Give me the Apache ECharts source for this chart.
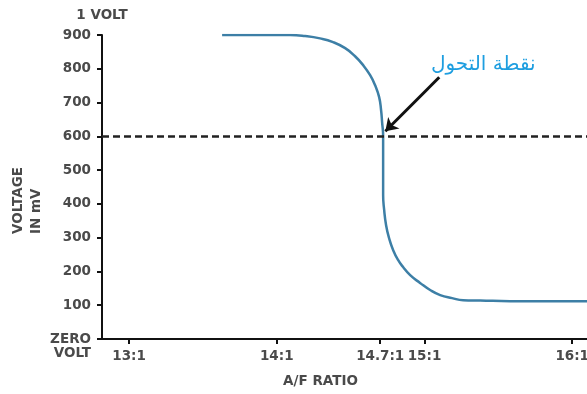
<!DOCTYPE html>
<html>
<head>
<meta charset="utf-8">
<script src="https://cdn.jsdelivr.net/npm/echarts@6/dist/echarts.min.js"></script>
<style>html,body{margin:0;padding:0;background:#fff;}#c{width:587px;height:394px;}</style>
</head>
<body>
<div id="c"></div>
<script>
// A/F ratio (x) and sensor voltage in mV (y)
const afRatio = [13.63, 14.09, 14.192, 14.293, 14.381, 14.463, 14.530, 14.584, 14.632, 14.666, 14.693, 14.706, 14.713, 14.720, 14.720, 14.720, 14.720, 14.720, 14.727, 14.740, 14.760, 14.788, 14.821, 14.855, 14.903, 14.970, 15.038, 15.106, 15.187, 15.262, 15.377, 15.58, 16.10];
const voltageMv = [900, 900, 897, 890, 879, 861, 837, 811, 781, 751, 716, 678, 642, 600, 559, 515, 470, 426, 382, 337, 299, 263, 234, 213, 189, 166, 145, 130, 121, 115, 114, 112, 112];
const xTickValues = [13, 14, 14.7, 15, 16];
const xTickLabels = ['13:1', '14:1', '14.7:1', '15:1', '16:1'];
const thresholdMv = 600;
const arrowFrom = [15.10, 775];
const arrowTo = [14.735, 615];
const annotationText = 'نقطة التحول';

const chart = echarts.init(document.getElementById('c'));
const labelFont = {fontFamily: 'DejaVu Sans, sans-serif', fontSize: 13.5, fontWeight: 'bold', color: '#4a4a4a'};
chart.setOption({
  animation: false,
  backgroundColor: '#fff',
  grid: {left: 102, right: 0, top: 35, bottom: 55, outerBoundsMode: 'none', containLabel: false},
  xAxis: {
    type: 'value', min: 12.817, max: 16.1,
    name: 'A/F RATIO', nameLocation: 'middle', nameGap: 35,
    nameTextStyle: Object.assign({}, labelFont, {padding: [0, 48, 0, 0]}),
    axisLine: {show: true, lineStyle: {color: '#111', width: 2}},
    axisTick: {show: true, customValues: xTickValues, length: 5, lineStyle: {color: '#111', width: 2}},
    axisLabel: Object.assign({}, labelFont, {customValues: xTickValues, margin: 10, hideOverlap: false,
      formatter: v => { const i = xTickValues.findIndex(t => Math.abs(t - v) < 1e-6); return i >= 0 ? xTickLabels[i] : ''; }}),
    splitLine: {show: false}
  },
  yAxis: {
    type: 'value', min: 0, max: 900, interval: 100,
    name: '1 VOLT', nameLocation: 'end', nameGap: 13,
    nameTextStyle: Object.assign({}, labelFont, {align: 'center'}),
    axisLine: {show: true, lineStyle: {color: '#111', width: 2}},
    axisTick: {show: true, length: 5, lineStyle: {color: '#111', width: 2}},
    axisLabel: Object.assign({}, labelFont, {margin: 11, lineHeight: 14,
      formatter: v => v === 0 ? '\u00a0\nZERO\nVOLT' : String(v)}),
    splitLine: {show: false}
  },
  graphic: [
    {type: 'text', left: 9, top: 167, rotation: Math.PI / 2, origin: [0, 0],
     style: {text: 'VOLTAGE\nIN mV', fill: '#4a4a4a', font: 'bold 13.5px DejaVu Sans, sans-serif', lineHeight: 18, textAlign: 'left'}}
  ],
  series: [{
    type: 'line',
    data: afRatio.map((x, i) => [x, voltageMv[i]]),
    showSymbol: false,
    smooth: 0.5,
    lineStyle: {color: '#3d7fa6', width: 2.5},
    markLine: {
      silent: true,
      animation: false,
      label: {show: false},
      data: [
        [{coord: [12.817, thresholdMv], symbol: 'none'}, {coord: [16.1, thresholdMv], symbol: 'none'}]
      ],
      lineStyle: {color: '#222', width: 2.5, type: [7, 4]}
    },
    z: 3
  }, {
    type: 'line',
    data: [],
    markLine: {
      silent: true,
      animation: false,
      label: {show: false},
      data: [
        [{coord: arrowFrom, symbol: 'none'}, {coord: arrowTo, symbol: 'arrow', symbolSize: 12}]
      ],
      lineStyle: {color: '#111', width: 3, type: 'solid'}
    },
    markPoint: {
      silent: true,
      symbol: 'circle', symbolSize: 0,
      data: [{coord: arrowFrom, label: {show: true, formatter: annotationText, position: 'top', distance: 2, offset: [44, 0], color: '#1e9ee0', fontSize: 20, fontFamily: 'DejaVu Sans, sans-serif'}}]
    }
  }]
});
</script>
</body>
</html>
